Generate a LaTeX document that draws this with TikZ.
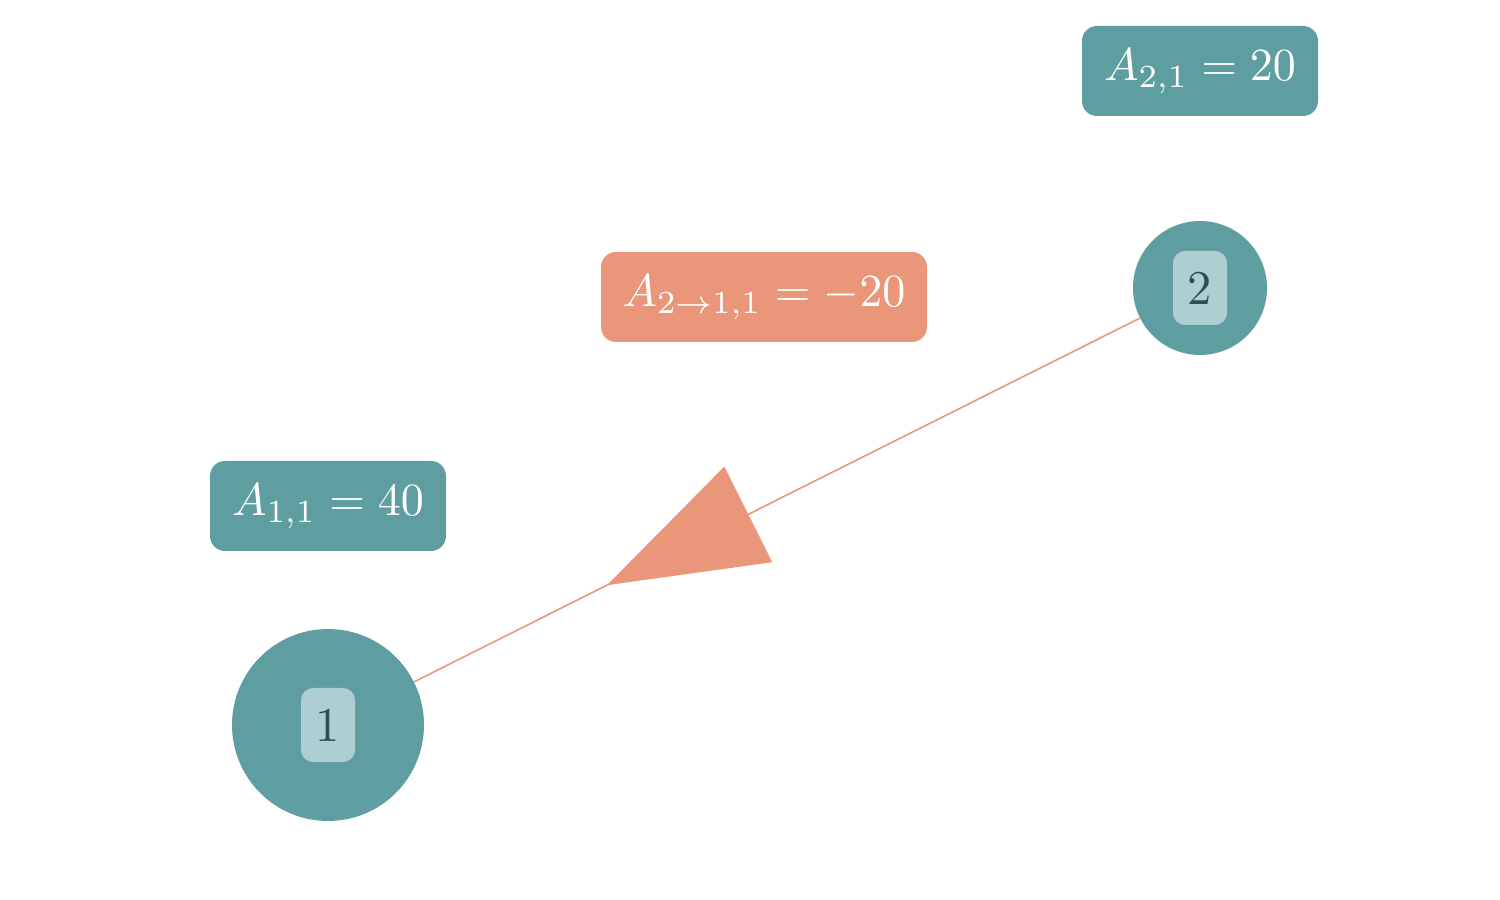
\documentclass[tikz,border=0pt]{standalone}
\usetikzlibrary{calc}
\definecolor{teal1}{HTML}{5F9EA0}
\definecolor{salmon1}{HTML}{E9967A}
\definecolor{lightbox}{HTML}{AECFD1}
\definecolor{darktxt}{HTML}{2F4F4F}
\newcommand{\bigtxt}[1]{\scalebox{1.31}{#1}}
\newcommand{\digtxt}[1]{\scalebox{1.38}{#1}}
\tikzset{
  vertex/.style={circle, fill=teal1, inner sep=0pt},
  idbox/.style={fill=lightbox, rounded corners=0.12cm, minimum width=0.54cm, minimum height=0.74cm, inner sep=0pt, text=darktxt},
  lab/.style={rounded corners=0.15cm, minimum height=0.9cm, inner sep=0pt, text=white},
  tlab/.style={lab, fill=teal1},
  slab/.style={lab, fill=salmon1},
  edge/.style={draw=salmon1, line width=0.45pt},
  tip/.style={fill=salmon1}
}
\begin{document}
\begin{tikzpicture}
\useasboundingbox (0,0) rectangle (15,9);
\node[vertex, minimum size=1.92cm] (n1) at (3.28,1.75) {};
\node[vertex, minimum size=1.34cm] (n2) at (12.00,6.12) {};
\node[idbox] (i1) at (n1) {\digtxt{1}};
\node[idbox] (i2) at (n2) {\digtxt{2}};
\node[tlab, minimum width=2.36cm] (l21) at (12.00,8.29) {\bigtxt{$A_{2,1}=20$}};
\node[tlab, minimum width=2.36cm] (l11) at (3.28,3.94) {\bigtxt{$A_{1,1}=40$}};
\node[slab, minimum width=3.26cm] (l211) at (7.64,6.03) {\bigtxt{$A_{2\to1,1}=-20$}};
\draw[edge] (n2) -- (n1);
\path (n2.center) -- (n1.center) coordinate[pos=0.518] (ab) coordinate[pos=0.68] (at);
\fill[tip] (at) -- ($(ab)!0.535cm!90:(at)$) -- ($(ab)!0.535cm!-90:(at)$) -- cycle;
\end{tikzpicture}
\end{document}
